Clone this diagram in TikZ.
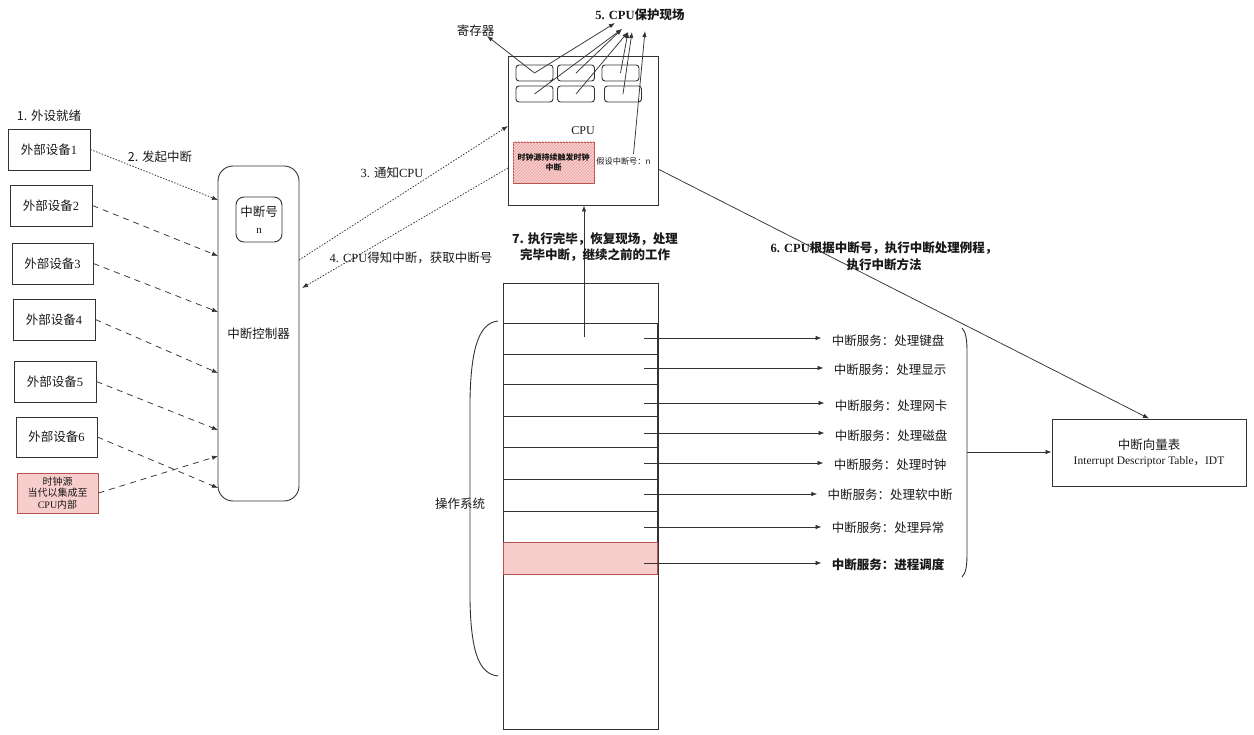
\documentclass[tikz,border=0pt]{standalone}
\usepackage{fontspec}
\setmainfont{Liberation Serif}
\newfontfamily\cjk{Noto Sans CJK SC}
\usetikzlibrary{arrows.meta,patterns}
\definecolor{pinkfill}{HTML}{F8CECC}
\definecolor{pinkdraw}{HTML}{B85450}
\definecolor{hatch}{HTML}{EAA0A0}
\definecolor{ln}{HTML}{333333}
\newcommand{\zh}[1]{{\cjk #1}}
\begin{document}
\begin{tikzpicture}[x=1pt,y=-1pt,
  every node/.style={text=black!90},
  box/.style={draw=ln,line width=0.9pt,inner sep=0pt,font=\fontsize{12.5}{15}\selectfont},
  reg/.style={draw=ln,line width=0.9pt,rounded corners=3,minimum width=37,minimum height=16,inner sep=0pt},
  lbl/.style={inner sep=0pt,font=\fontsize{12.5}{15}\selectfont},
  arr/.style={draw=ln,line width=0.75pt,-{Latex[length=6pt,width=4.5pt]}},
  dotl/.style={arr,dash pattern=on 1.5pt off 1.5pt},
  dashl/.style={arr,dash pattern=on 6pt off 5pt},
  plain/.style={draw=ln,line width=0.9pt}
]
\useasboundingbox (0,0) rectangle (1254,735);

% devices
\node[lbl] (step1) at (49,116) {\zh{1. 外设就绪}};
\node[box,minimum width=82,minimum height=41] (d1) at (49,149.5) {\zh{外部设备}1};
\node[box,minimum width=82,minimum height=41] (d2) at (51,205.5) {\zh{外部设备}2};
\node[box,minimum width=81,minimum height=41] (d3) at (52.5,263.5) {\zh{外部设备}3};
\node[box,minimum width=82,minimum height=41] (d4) at (54,319.5) {\zh{外部设备}4};
\node[box,minimum width=82,minimum height=41] (d5) at (55,381.5) {\zh{外部设备}5};
\node[box,minimum width=81,minimum height=40] (d6) at (56.5,437) {\zh{外部设备}6};
\node[box,fill=pinkfill,draw=pinkdraw,minimum width=81,minimum height=40,align=center,font=\fontsize{10}{11.5}\selectfont] (clk) at (57.5,493) {\zh{时钟源}\\\zh{当代以集成至}\\CPU\zh{内部}};

% controller
\node[box,rounded corners=15,minimum width=81,minimum height=335] (ctl) at (258.5,333.5) {\zh{中断控制器}};
\node[box,rounded corners=8,minimum width=46,minimum height=45,align=center,font=\fontsize{12.5}{17}\selectfont] (irq) at (259,219.5) {\zh{中断号}\\{\fontsize{11}{12}\selectfont n}};

\coordinate (e1) at (218,200);
\coordinate (e2) at (218,256);
\coordinate (e3) at (218,312);
\coordinate (e4) at (218,373);
\coordinate (e5) at (218,430);
\coordinate (e6) at (218,488);
\coordinate (ec) at (218,456);
\draw[dotl] (d1.east) -- (e1);
\draw[dashl] (d2.east) -- (e2);
\draw[dashl] (d3.east) -- (e3);
\draw[dashl] (d4.east) -- (e4);
\draw[dashl] (d5.east) -- (e5);
\draw[dashl] (d6.east) -- (e6);
\draw[dashl] (clk.east) -- (ec);
\node[lbl] (step2) at (160,157) {\zh{2. 发起中断}};

% CPU
\node[box,minimum width=150,minimum height=149,font=\fontsize{12}{14}\selectfont] (cpu) at (583,130.5) {CPU};
\node[reg] (r1) at (534.5,73) {};
\node[reg] (r2) at (576,73) {};
\node[reg] (r3) at (620.5,73) {};
\node[reg] (r4) at (534.5,94) {};
\node[reg] (r5) at (576,94) {};
\node[reg] (r6) at (623,94) {};
\node[draw=pinkdraw,line width=0.8pt,fill=pinkfill,postaction={pattern=north east lines,pattern color=hatch},minimum width=81,minimum height=41,inner sep=0pt,text width=78,align=center,font=\cjk\bfseries\fontsize{8}{10.5}\selectfont] (clk2) at (553.5,162.5) {时钟源持续触发时钟\\中断};
\node[inner sep=0pt,font=\cjk\fontsize{8.2}{10}\selectfont] (assume) at (623.5,161) {假设中断号：n};

\node[lbl] (regl) at (475.5,31) {\zh{寄存器}};
\node[lbl,font=\bfseries\fontsize{12.5}{15}\selectfont] (step5) at (640,15) {5. CPU\zh{保护现场}};

\coordinate (tr) at (487,36);
\coordinate (t1) at (615,23);
\coordinate (t2) at (622,29);
\coordinate (t3) at (628,32);
\coordinate (t4) at (632,32);
\coordinate (t5) at (645,31);
\draw[arr] (r1.center) -- (tr);
\draw[arr] (r1.center) -- (t1);
\draw[arr] (r4.center) -- (t2);
\draw[arr] (r2.center) -- (t2);
\draw[arr] (r5.center) -- (t3);
\draw[arr] (r3.center) -- (t3);
\draw[arr] (r6.center) -- (t4);
\draw[arr] ([xshift=10pt,yshift=3pt]assume.north) -- (t5);

% steps 3 and 4
\coordinate (c3s) at (299,260);
\coordinate (c3e) at (508,126);
\coordinate (c4s) at (508,168);
\coordinate (c4e) at (302,288);
\draw[dotl] (c3s) -- (c3e);
\draw[dotl] (c4s) -- (c4e);
\node[lbl] (step3) at (392,173) {3. \zh{通知}CPU};
\node[lbl] (step4) at (411,258) {4. CPU\zh{得知中断，获取中断号}};

% memory stack
\node[plain,minimum width=155,minimum height=446,inner sep=0pt] (mem) at (580.5,506) {};
\foreach \top/\bot in {323/354,354/384,384/416,416/447,447/479,479/511,511/542} {
  \draw[plain] (503,\top) rectangle (657,\bot);
}
\draw[draw=pinkdraw,line width=0.8pt,fill=pinkfill] (503,542) rectangle (657,574);

\coordinate (s7) at (584,337);
\draw[arr] (s7) -- (s7 |- cpu.south);
\node[lbl,font=\cjk\bfseries\fontsize{12.5}{16}\selectfont,align=center] (step7) at (595,247) {7. 执行完毕，恢复现场，处理\\完毕中断，继续之前的工作};

% services
\foreach \i/\ay/\ly/\lx/\txt in {1/338/341/888/处理键盘,2/368/370/890/处理显示,3/403/406/891/处理网卡,4/433/436/891/处理磁盘,5/463/465/890/处理时钟,6/494/495/890/处理软中断,7/527/528/888/处理异常} {
  \coordinate (a\i) at (644,\ay);
  \node[lbl,inner xsep=10pt] (sv\i) at (\lx,\ly) {\zh{中断服务：\txt}};
  \draw[arr] (a\i) -- (a\i -| sv\i.west);
}
\coordinate (a8) at (644,563);
\node[lbl,inner xsep=10pt,font=\cjk\bfseries\fontsize{12.5}{15}\selectfont] (sv8) at (888,565) {中断服务：进程调度};
\draw[arr] (a8) -- (a8 -| sv8.west);

% braces
\draw[plain] (962,328) .. controls (966,332) and (967,340) .. (967,352) -- (967,553) .. controls (967,566) and (966,573) .. (962,577);
\draw[plain] (498,321) .. controls (480,323) and (471,345) .. (470,400) -- (470,600) .. controls (471,655) and (480,674) .. (498,676);
\node[lbl] (os) at (460,504) {\zh{操作系统}};

% IDT
\node[box,minimum width=194,minimum height=67,align=center] (idt) at (1149,452.5) {\zh{中断向量表}\\{\fontsize{11.5}{14}\selectfont Interrupt Descriptor Table\zh{，}IDT}};
\coordinate (bt) at (967,452);
\draw[arr] (bt) -- (bt -| idt.west);

\coordinate (s6) at (658,169);
\draw[arr] (s6) -- (idt.north);
\node[lbl,font=\bfseries\fontsize{12.5}{17}\selectfont,align=center] (step6) at (884,256) {6. CPU\zh{根据中断号，执行中断处理例程，}\\\zh{执行中断方法}};
\end{tikzpicture}
\end{document}
